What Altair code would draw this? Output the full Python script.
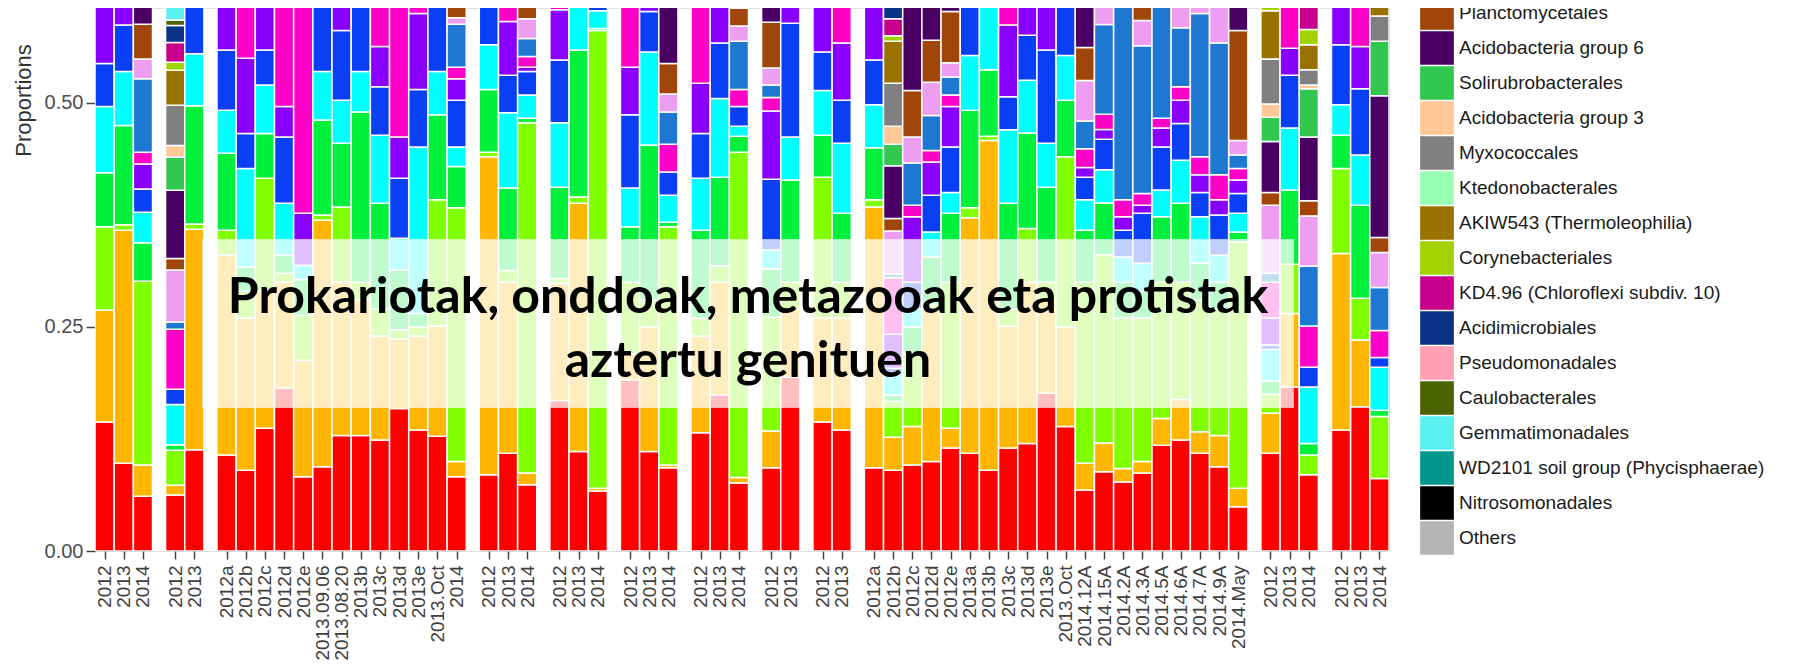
import altair as alt
import pandas as pd

# Stack order (bottom -> top) = legend order (top -> bottom)
orders = [
    "Rhizobiales", "Actinomycetales", "Sphingomonadales", "Burkholderiales",
    "Xanthomonadales", "Acidobacteria group 1", "Sphingobacteriales", "Gaiellales",
    "Acidobacteria group 4", "Rhodospirillales",
    "Planctomycetales", "Acidobacteria group 6", "Solirubrobacterales",
    "Acidobacteria group 3", "Myxococcales", "Ktedonobacterales",
    "AKIW543 (Thermoleophilia)", "Corynebacteriales", "KD4.96 (Chloroflexi subdiv. 10)",
    "Acidimicrobiales", "Pseudomonadales", "Caulobacterales", "Gemmatimonadales",
    "WD2101 soil group (Phycisphaerae)", "Nitrosomonadales", "Others",
]
colors = [
    "#FF0000", "#FFB600", "#80FF00", "#00F03C", "#00FFFF", "#0A40F5", "#8A00FF",
    "#FF00C8", "#1E78D2", "#EE9EF0", "#A0460A", "#4B0064", "#32C850", "#FFC896",
    "#808080", "#96FFB4", "#9A7200", "#A2D200", "#C8008C", "#0A3287", "#FFA0B4",
    "#4B6400", "#5AF0F0", "#00968C", "#000000", "#B4B4B4",
]

# Sample labels per panel
labels_p1 = ["2012", "2013", "2014"]
labels_p2 = ["2012", "2013"]
labels_p3 = ["2012a", "2012b", "2012c", "2012d", "2012e", "2013.09.06", "2013.08.20",
             "2013b", "2013c", "2013d", "2013e", "2013.Oct", "2014"]
labels_p4 = ["2012", "2013", "2014"]
labels_p5 = ["2012", "2013", "2014"]
labels_p6 = ["2012", "2013", "2014"]
labels_p7 = ["2012", "2013", "2014"]
labels_p8 = ["2012", "2013"]
labels_p9 = ["2012", "2013"]
labels_p10 = ["2012a", "2012b", "2012c", "2012d", "2012e", "2013a", "2013b", "2013c",
              "2013d", "2013e", "2013.Oct", "2014.12A", "2014.15A", "2014.2A", "2014.3A",
              "2014.5A", "2014.6A", "2014.7A", "2014.9A", "2014.May"]
labels_p11 = ["2012", "2013", "2014"]
labels_p12 = ["2012", "2013", "2014"]

# Proportions per sample, in stack order (visible part of each bar)
values_p1 = [
    [.144, .125, .093, .06, .074, .048, .10],
    [.098, .260, .006, .111, .06, .052, .05],
    [.061, .035, .205, .043, .034, .026, .028, .013, .082, .022, .039, .05],
]
values_p2 = [
    [.0625, .011, .039, .006, .045, .017, 0, .067, .008, .058, .013, .076, .037, .013,
     .045, 0, .039, .009, .022, .019, 0, .006, .03],
    [.113, .246, .006, .132, .058, .06],
]
values_p3 = [
    [.107, .223, .028, .086, .048, .067, .06],
    [.090, .17, .03, .027, .11, .039, .084, .06],
    [.137, .153, .126, .05, .054, .039, .06],
    [.182, .118, .01, .02, .058, .074, .034, .12],
    [.083, .13, .05, .04, .016, 0, .058, .25],
    [.094, .275, .006, .106, .054, .075],
    [.129, .171, .084, .071, .048, .078, .04],
    [.129, .151, .02, .19, .045, .08],
    [.124, .116, .03, .118, .076, .054, .045, .05],
    [.159, .078, .01, .067, .035, .067, .046, .15],
    [.135, .105, .01, .015, .186, .064, .085, .05],
    [.128, .123, .141, .095, .048, .075],
    [.083, .017, .283, .046, .022, .052, .024, .013, .048, .007, .03],
]
values_p4 = [
    [.085, .355, .005, .07, .05, .05],
    [.109, .191, .013, .092, .084, .042, .06, .03],
    [.074, .013, .391, .005, .026, .026, .005, .012, .02, .022, .03],
]
values_p5 = [
    [.168, .131, .005, .102, .072, .07, .056, .02],
    [.111, .277, .007, .164, .05],
    [.067, .003, .511, .002, .02, .02],
]
values_p6 = [
    [.191, .029, .08, .062, .043, .082, .053, .08],
    [.111, .139, .03, .173, .104, .045, .02],
    [.093, .003, .266, .005, .03, .026, 0, .031, .036, .02, .034, .08],
]
values_p7 = [
    [.132, .108, .02, .098, .058, .05, .056, .09],
    [.174, .126, .018, .099, .088, .062, .045],
    [.076, .006, .363, .018, .011, .022, 0, .019, .054, .017, .02, .02],
]
values_p8 = [
    [.093, .041, .127, .054, .021, .079, .076, .015, .014, .019, .051, .03],
    [.194, .076, .03, .114, .048, .127, .03],
]
values_p9 = [
    [.144, .116, .157, .047, .05, .043, .051, .02],
    [.135, .125, .04, .077, .078, .048, .064, .05],
]
values_p10 = [
    [.093, .291, .008, .058, .048, .05, .065],
    [.090, .037, .04, .007, .025, .005, .038, .063, .004, .048, .014, .059, .024, .02,
     .048, 0, .047, .006, .019, .02],
    [.096, .043, .081, .03, .02, .03, .073, .013, .047, .029, .052, .12],
    [.100, .17, .005, .053, .028, .041, .037, .013, .039, .037, .047, .05],
    [.115, .022, .163, .077, .023, .051, .045, .013, .02, .016, .057, .02],
    [.109, .263, .011, .109, .061, .06],
    [.090, .368, .005, .074, .075],
    [.115, .136, .019, .118, .082, .037, .08, .03],
    [.120, .18, .06, .1065, .059, .05, .04],
    [.176, .104, .02, .106, .049, .104, .05],
    [.139, .111, .19, .063, .05, .06],
    [.068, .03, .202, .058, .034, .025, .011, .021, .031, .045, .037, .05],
    [.0885, .032, .21, .058, .037, .034, .011, .017, .10, .03],
    [.077, .015, .168, .04, .028, .03, .015, .019, .23],
    [.087, .013, .16, .03, .031, .056, .009, .013, .165, .028, .03],
    [.118, .03, .152, .073, .03, .048, .021, .011, .13],
    [.124, .045, .131, .088, .048, .041, .026, .015, .066, .03],
    [.109, .024, .147, .041, .052, .027, .02, .02, .16, .02],
    [.094, .035, .141, .03, .03, .045, .017, .028, .147, .045, .02],
    [.0495, .0205, .275, .011, .021, .022, .015, .013, .015, .016, .123, .04],
]
values_p11 = [
    [.109, .045, .021, .015, .035, .005, .03, .04, .01, .076, .014, .057, .027, .015,
     .05, 0, .054, .02],
    [.183, .082, .055, .083, .069, .059, .03, .06],
    [.085, 0, .022, .013, .063, .022, 0, .046, .067, .056, .017, .071, .054, .004, .017,
     0, .028, .017, .04],
]
values_p12 = [
    [.135, .197, .095, .037, .034, .067, .05],
    [.161, .0745, .0465, .104, .056, .074, .047, .05],
    [.081, 0, .069, .007, .048, .011, 0, .03, .048, .039, .017, .158, .061, 0, .028, 0, .03],
]

panel_labels = [labels_p1, labels_p2, labels_p3, labels_p4, labels_p5, labels_p6,
                labels_p7, labels_p8, labels_p9, labels_p10, labels_p11, labels_p12]
panel_values = [values_p1, values_p2, values_p3, values_p4, values_p5, values_p6,
                values_p7, values_p8, values_p9, values_p10, values_p11, values_p12]

# Build table: each bar occupies BAR units, panels separated by GAP units
BAR, GAP = 100, 68
rows, centers, tick_labels = [], [], []
pos, bar_id = 0, 0
for labs, vals in zip(panel_labels, panel_values):
    for lab, segs in zip(labs, vals):
        centers.append(pos + BAR // 2)
        tick_labels.append(lab)
        for k, v in enumerate(segs):
            if v > 0:
                rows.append({"bar": bar_id, "x0": pos, "x1": pos + BAR,
                             "order": orders[k], "rank": k, "value": v})
        pos += BAR
        bar_id += 1
    pos += GAP
x_max = pos - GAP
df = pd.DataFrame(rows)

label_expr = "({" + ",".join(f"'{c}':'{l}'" for c, l in zip(centers, tick_labels)) + "})[datum.value]"

W, H = 1294, 543
Y_TOP = 0.606

bars = alt.Chart(df).transform_stack(
    stack="value", groupby=["bar"], as_=["y0", "y1"],
    sort=[alt.SortField("rank", order="ascending")],
).mark_bar(clip=True, stroke="white", strokeWidth=1.5).encode(
    x=alt.X("x0:Q", scale=alt.Scale(domain=[0, x_max], nice=False, zero=False),
            axis=alt.Axis(values=centers, labelExpr=label_expr, labelAngle=270,
                          labelFontSize=19, labelColor="#404040", labelOverlap=False,
                          labelFlush=False, labelBound=False, tickSize=8,
                          tickColor="#444", tickWidth=1.5, labelPadding=6,
                          domain=False, grid=False, title=None)),
    x2="x1:Q",
    y=alt.Y("y0:Q", scale=alt.Scale(domain=[0, Y_TOP], nice=False, zero=True),
            axis=alt.Axis(values=[0, 0.25, 0.5], format=".2f", labelFontSize=20,
                          labelColor="#4d4d4d", tickSize=9, tickColor="#444",
                          tickWidth=1.5, labelPadding=3, domain=False, grid=False,
                          title="Proportions", titleFontSize=22, titleFontWeight="normal",
                          titleColor="#333", titleAngle=270, titleAlign="center",
                          titleBaseline="middle", titleX=-72, titleY=92)),
    y2="y1:Q",
    color=alt.Color("order:N", scale=alt.Scale(domain=orders, range=colors),
                    legend=alt.Legend(orient="none", legendX=1325, legendY=-362,
                                      title=None, symbolType="square", symbolSize=1136,
                                      symbolStrokeWidth=0, symbolOpacity=1, rowPadding=1,
                                      labelFontSize=19, labelColor="#1a1a1a",
                                      labelOffset=5, labelLimit=600, padding=0,
                                      symbolLimit=40)),
)

box = alt.Chart(pd.DataFrame({"k": [0]})).mark_rect(
    color="white", opacity=0.75, stroke="white", strokeWidth=2, strokeOpacity=0.9
).encode(x=alt.value(108), x2=alt.value(1198), y=alt.value(232), y2=alt.value(399))

caption = alt.Chart(pd.DataFrame({"k": [0]})).mark_text(
    text=["Prokariotak, onddoak, metazooak eta protistak", "aztertu genituen"],
    font="Lato", fontSize=50, fontWeight="bold", color="black", align="center",
    baseline="alphabetic", lineHeight=64,
).encode(x=alt.value(653), y=alt.value(305))

chart = alt.layer(bars, box, caption).properties(
    width=W, height=H,
    autosize=alt.AutoSizeParams(type="none"),
    padding={"left": 87, "top": 0, "right": 402, "bottom": 110},
).configure_view(stroke=None).configure(font="Liberation Sans")

chart.save("out.html", embed_options={"renderer": "svg", "actions": False})
